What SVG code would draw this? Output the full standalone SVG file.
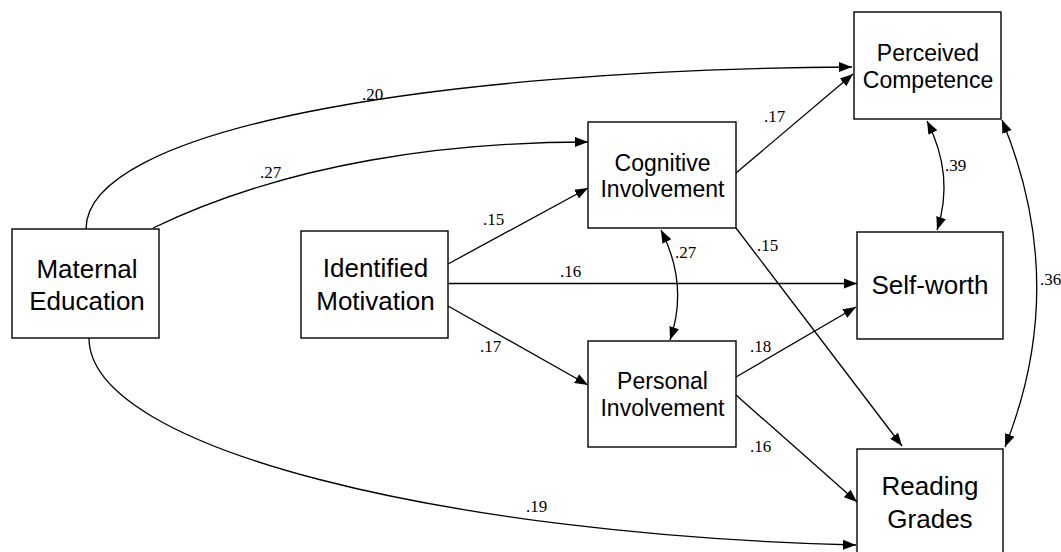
<svg xmlns="http://www.w3.org/2000/svg" width="1061" height="552" viewBox="0 0 1061 552">
<defs>
<marker id="ah" markerUnits="userSpaceOnUse" markerWidth="14" markerHeight="11" refX="13" refY="5" orient="auto-start-reverse" viewBox="0 0 14 10">
<path d="M0,0 L13,5 L0,10 z" fill="#000"/>
</marker>
<style>
.box{fill:#fff;stroke:#000;stroke-width:1.4}
.big{font-family:"Liberation Sans",Arial,sans-serif;font-size:26px;text-anchor:middle;fill:#000}
.mid{font-family:"Liberation Sans",Arial,sans-serif;font-size:23px;text-anchor:middle;fill:#000}
.lbl{font-family:"Liberation Serif","Times New Roman",serif;font-size:17px;fill:#000}
.c{fill:none;stroke:#000;stroke-width:1.3}
.a{marker-end:url(#ah)}
.b{marker-start:url(#ah);marker-end:url(#ah)}
</style>
</defs>
<rect width="1061" height="552" fill="#fff"/>
<g id="connectors">
<path class="c a" d="M86,229 C86,130 420,70 852,67"/>
<path class="c a" d="M153,228 C290,162 450,142 588,142"/>
<path class="c a" d="M89,338 C89,450 450,535 856,545"/>
<path class="c a" d="M448,264 L588,188"/>
<path class="c a" d="M448,283.5 L857,283.5"/>
<path class="c a" d="M448,306 L588,385"/>
<path class="c a" d="M736,173 L853,74"/>
<path class="c a" d="M736,228 L902,446"/>
<path class="c a" d="M736,377 L856,307"/>
<path class="c a" d="M736,395 L857,502"/>
<path class="c b" d="M661,230 Q689,285 670,340"/>
<path class="c b" d="M927,121 Q955,176 937,230"/>
<path class="c b" d="M1002,120 Q1070,284 1005,447"/>
<text class="lbl" x="362" y="100">.20</text>
<text class="lbl" x="260" y="178">.27</text>
<text class="lbl" x="483" y="225">.15</text>
<text class="lbl" x="764" y="122">.17</text>
<text class="lbl" x="945" y="171">.39</text>
<text class="lbl" x="757" y="251">.15</text>
<text class="lbl" x="675" y="258">.27</text>
<text class="lbl" x="560" y="277">.16</text>
<text class="lbl" x="480" y="352">.17</text>
<text class="lbl" x="526" y="512">.19</text>
<text class="lbl" x="750" y="352">.18</text>
<text class="lbl" x="750" y="452">.16</text>
<text class="lbl" x="1040" y="285">.36</text>
</g>
<g id="maternal-education">
<rect class="box" x="12" y="229" width="147" height="109"/>
<text class="big" x="87" y="277.5">Maternal</text>
<text class="big" x="87" y="309.5">Education</text>
</g>
<g id="identified-motivation">
<rect class="box" x="301" y="231" width="147" height="107"/>
<text class="big" x="375.5" y="277">Identified</text>
<text class="big" x="375.5" y="309.5">Motivation</text>
</g>
<g id="cognitive-involvement">
<rect class="box" x="588" y="122" width="148" height="106"/>
<text class="mid" x="662.5" y="171">Cognitive</text>
<text class="mid" x="662.5" y="197">Involvement</text>
</g>
<g id="personal-involvement">
<rect class="box" x="588" y="341" width="148" height="106"/>
<text class="mid" x="662.5" y="389">Personal</text>
<text class="mid" x="662.5" y="415.5">Involvement</text>
</g>
<g id="perceived-competence">
<rect class="box" x="854" y="12" width="147" height="107"/>
<text class="mid" x="928" y="61">Perceived</text>
<text class="mid" x="928" y="87.5">Competence</text>
</g>
<g id="self-worth">
<rect class="box" x="857" y="232" width="146" height="107"/>
<text class="big" x="930" y="294">Self-worth</text>
</g>
<g id="reading-grades">
<rect class="box" x="857" y="449" width="146" height="115"/>
<text class="big" x="930" y="495">Reading</text>
<text class="big" x="930" y="527.5">Grades</text>
</g>
</svg>
